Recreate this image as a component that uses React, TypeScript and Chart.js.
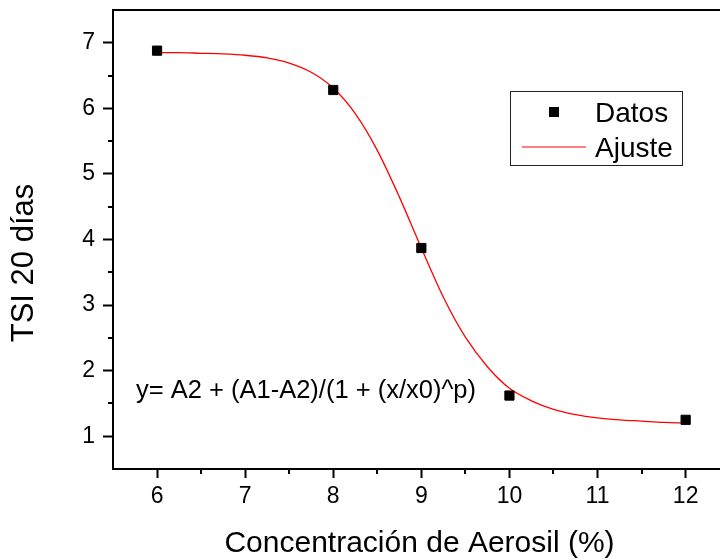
import React, { useEffect, useRef } from "react";
import { Chart, registerables } from "chart.js";

Chart.register(...registerables);

// ---- data ----
const xTicks = [6, 7, 8, 9, 10, 11, 12];
const xMinorTicks = [6.5, 7.5, 8.5, 9.5, 10.5, 11.5];
const yTicks = [1, 2, 3, 4, 5, 6, 7];
const yMinorTicks = [1.5, 2.5, 3.5, 4.5, 5.5, 6.5];

const concentracion = [6, 8, 9, 10, 12];
const tsi = [6.88, 6.28, 3.87, 1.62, 1.25];

const ajusteX = [6, 6.25, 6.5, 6.75, 7, 7.25, 7.5, 7.75, 8, 8.25, 8.5, 8.75, 9, 9.25, 9.5, 9.75, 10, 10.25, 10.5, 10.75, 11, 11.25, 11.5, 11.75, 12];
const ajusteY = [6.85, 6.85, 6.84, 6.83, 6.81, 6.77, 6.69, 6.55, 6.31, 5.92, 5.36, 4.65, 3.87, 3.12, 2.51, 2.06, 1.73, 1.54, 1.41, 1.33, 1.28, 1.25, 1.23, 1.21, 1.2];

const xTitle = "Concentración de Aerosil (%)";
const yTitle = "TSI 20 días";
const ecuacion = "y= A2 + (A1-A2)/(1 + (x/x0)^p)";
const legendLabels = ["Datos", "Ajuste"];

const FONT = '"Liberation Sans", Arial, Helvetica, sans-serif';

const decorPlugin = {
  id: "decor",
  afterDraw(chart: any) {
    const ctx = chart.ctx as CanvasRenderingContext2D;
    const area = chart.chartArea;
    const xs = chart.scales.x;
    const ys = chart.scales.y;
    ctx.save();
    // top frame line
    ctx.strokeStyle = "#000";
    ctx.lineWidth = 2;
    ctx.beginPath();
    ctx.moveTo(area.left - 1, area.top);
    ctx.lineTo(area.right, area.top);
    ctx.stroke();
    // minor ticks
    ctx.lineWidth = 2;
    ctx.beginPath();
    xMinorTicks.forEach((v) => {
      const px = Math.round(xs.getPixelForValue(v));
      ctx.moveTo(px, area.bottom);
      ctx.lineTo(px, area.bottom + 5);
    });
    yMinorTicks.forEach((v) => {
      const py = Math.round(ys.getPixelForValue(v));
      ctx.moveTo(area.left, py);
      ctx.lineTo(area.left - 5, py);
    });
    ctx.stroke();

    // axis titles
    ctx.fillStyle = "#000";
    ctx.textAlign = "center";
    ctx.textBaseline = "alphabetic";
    ctx.font = `30px ${FONT}`;
    ctx.fillText(xTitle, 419.5, 552);
    ctx.save();
    ctx.font = `31px ${FONT}`;
    ctx.translate(33, 263);
    ctx.rotate(-Math.PI / 2);
    ctx.fillText(yTitle, 0, 0);
    ctx.restore();

    // equation
    ctx.font = `25.5px ${FONT}`;
    ctx.textAlign = "left";
    ctx.fillText(ecuacion, 136, 398);

    // legend
    const lx = 510, ly = 91, lw = 172, lh = 74;
    ctx.strokeStyle = "#222";
    ctx.lineWidth = 1;
    ctx.strokeRect(lx + 0.5, ly + 0.5, lw, lh);
    const ds0 = chart.data.datasets[0];
    const ds1 = chart.data.datasets[1];
    ctx.fillStyle = ds0.backgroundColor;
    ctx.fillRect(549, 107, 10, 10);
    ctx.strokeStyle = ds1.borderColor;
    ctx.lineWidth = 1;
    ctx.beginPath();
    ctx.moveTo(522, 147);
    ctx.lineTo(586, 147);
    ctx.stroke();
    ctx.fillStyle = "#000";
    ctx.font = `28px ${FONT}`;
    ctx.fillText(legendLabels[0], 595, 122);
    ctx.fillText(legendLabels[1], 595, 157);
    ctx.restore();
  },
};

export default function App() {
  const ref = useRef<HTMLCanvasElement | null>(null);

  useEffect(() => {
    if (!ref.current) return;
    const chart = new Chart(ref.current, {
      type: "scatter",
      data: {
        datasets: [
          {
            label: legendLabels[0],
            data: concentracion.map((x, i) => ({ x, y: tsi[i] })),
            pointStyle: "rect",
            pointRadius: 6.5,
            pointHoverRadius: 6.5,
            backgroundColor: "#000",
            borderColor: "#000",
            borderWidth: 1,
            showLine: false,
            clip: false,
          },
          {
            label: legendLabels[1],
            data: ajusteX.map((x, i) => ({ x, y: ajusteY[i] })),
            showLine: true,
            pointRadius: 0,
            borderColor: "#ff0000",
            borderWidth: 1.3,
            cubicInterpolationMode: "monotone",
            fill: false,
          },
        ],
      },
      options: {
        animation: false,
        responsive: true,
        maintainAspectRatio: false,
        events: [],
        layout: { autoPadding: false, padding: { top: 10, left: 0, right: 0, bottom: 0 } },
        plugins: {
          legend: { display: false },
          tooltip: { enabled: false },
          title: { display: false },
        },
        scales: {
          x: {
            type: "linear",
            position: "bottom",
            min: 5.5,
            max: 12.39,
            afterBuildTicks: (scale: any) => {
              scale.ticks = xTicks.map((v) => ({ value: v }));
            },
            afterFit: (scale: any) => {
              scale.height = 91;
              scale.paddingLeft = 0;
              scale.paddingRight = 0;
            },
            ticks: {
              color: "#000",
              font: { family: FONT, size: 23 },
              padding: 5,
              maxRotation: 0,
              callback: (v: any) => String(v),
            },
            grid: {
              display: true,
              drawOnChartArea: false,
              drawTicks: true,
              tickLength: 9,
              tickWidth: 2,
              tickColor: "#000",
            },
            border: { display: true, color: "#000", width: 2 },
          },
          y: {
            type: "linear",
            position: "left",
            min: 0.5,
            max: 7.5,
            afterBuildTicks: (scale: any) => {
              scale.ticks = yTicks.map((v) => ({ value: v }));
            },
            afterFit: (scale: any) => {
              scale.width = 113;
              scale.paddingTop = 0;
              scale.paddingBottom = 0;
            },
            ticks: {
              color: "#000",
              font: { family: FONT, size: 23 },
              padding: 8,
              callback: (v: any) => String(v),
            },
            grid: {
              display: true,
              drawOnChartArea: false,
              drawTicks: true,
              tickLength: 10,
              tickWidth: 2,
              tickColor: "#000",
            },
            border: { display: true, color: "#000", width: 2 },
          },
        },
      } as any,
      plugins: [decorPlugin],
    });
    return () => chart.destroy();
  }, []);

  return (
    <div style={{ position: "fixed", left: 0, top: 0, width: 720, height: 560, background: "#fff" }}>
      <canvas ref={ref} />
    </div>
  );
}
